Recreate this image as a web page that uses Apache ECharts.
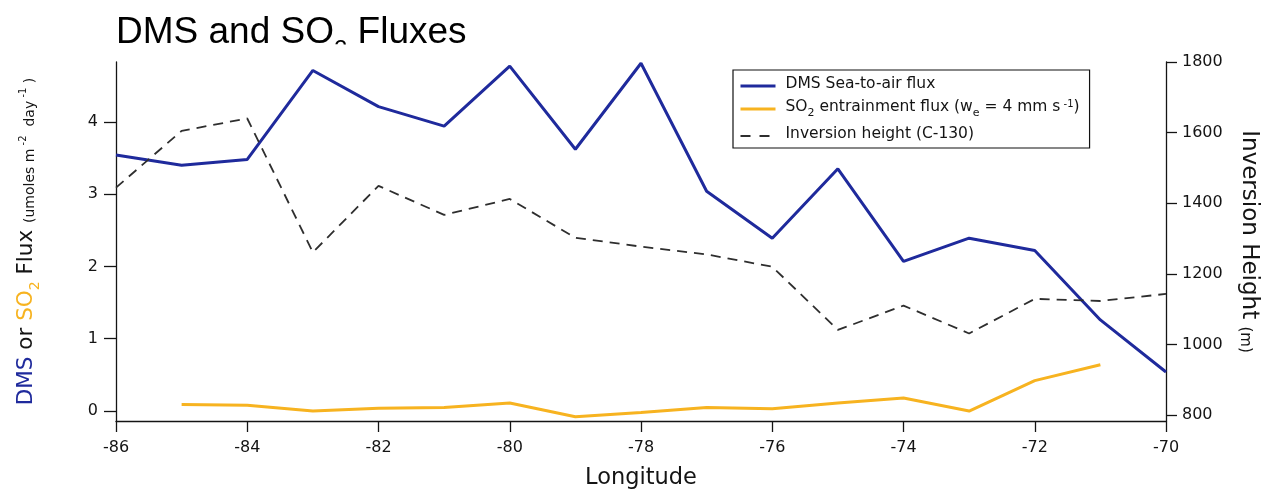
<!DOCTYPE html>
<html>
<head>
<meta charset="utf-8">
<script src="https://cdn.jsdelivr.net/npm/echarts@6/dist/echarts.min.js"></script>
<style>
html,body{margin:0;padding:0;background:#ffffff;}
#chart{width:1271px;height:491px;}
</style>
</head>
<body>
<div id="chart"></div>
<script>
// ---- data ----
const longitudes = [-86, -85, -84, -83, -82, -81, -80, -79, -78, -77, -76, -75, -74, -73, -72, -71, -70];
const dmsFlux = [3.54, 3.40, 3.48, 4.71, 4.21, 3.94, 4.77, 3.62, 4.81, 3.04, 2.39, 3.35, 2.07, 2.39, 2.22, 1.26, 0.54];
const so2Longitudes = [-85, -84, -83, -82, -81, -80, -79, -78, -77, -76, -75, -74, -73, -72, -71];
const so2Flux = [0.09, 0.08, 0.00, 0.04, 0.05, 0.11, -0.08, -0.02, 0.05, 0.03, 0.11, 0.18, 0.00, 0.42, 0.64];
const inversionHeight = [1444, 1605, 1640, 1261, 1449, 1367, 1412, 1302, 1277, 1255, 1220, 1041, 1110, 1031, 1129, 1123, 1143];
const xTicks = [-86, -84, -82, -80, -78, -76, -74, -72, -70];
const leftTicks = [0, 1, 2, 3, 4];
const rightTicks = [800, 1000, 1200, 1400, 1600, 1800];
const seriesNames = ['DMS Sea-to-air flux', 'SO2 entrainment flux', 'Inversion height (C-130)'];

const TFONT = '"Liberation Sans", Arial, Helvetica, sans-serif';
const FONT = '"DejaVu Sans", Verdana, sans-serif';
const BLUE = '#1f2a9c';
const ORANGE = '#f7b320';
const DASH = '#2e2e2e';
const INK = '#141414';

function pairs(xs, ys) { return xs.map((x, i) => [x, ys[i]]); }

const chart = echarts.init(document.getElementById('chart'), null, {renderer: 'canvas'});

const legendRich = {
  t: {fontSize: 15.5, fontFamily: FONT, color: INK, lineHeight: 20, verticalAlign: 'top'},
  sub: {fontSize: 11, fontFamily: FONT, color: INK, lineHeight: 11, verticalAlign: 'top', padding: [9, 0, 0, 0]},
  sup: {fontSize: 10, fontFamily: FONT, color: INK, lineHeight: 10, verticalAlign: 'top', padding: [0, 0, 0, 0]}
};

const leftNameRich = {
  b: {fontSize: 21.5, fontFamily: FONT, color: BLUE, lineHeight: 25, verticalAlign: 'top'},
  k: {fontSize: 21.5, fontFamily: FONT, color: INK, lineHeight: 25, verticalAlign: 'top'},
  o: {fontSize: 21.5, fontFamily: FONT, color: ORANGE, lineHeight: 25, verticalAlign: 'top'},
  os: {fontSize: 14, fontFamily: FONT, color: ORANGE, lineHeight: 14, verticalAlign: 'top', padding: [13, 0, 0, 0]},
  m: {fontSize: 14, fontFamily: FONT, color: INK, lineHeight: 14, verticalAlign: 'top', padding: [8, 0, 0, 0]},
  sp: {fontSize: 10, fontFamily: FONT, color: INK, lineHeight: 10, verticalAlign: 'top', padding: [3, 0, 0, 0]}
};

const rightNameRich = {
  a: {fontSize: 23, fontFamily: FONT, color: INK, lineHeight: 26, verticalAlign: 'top'},
  s: {fontSize: 15, fontFamily: FONT, color: INK, lineHeight: 15, verticalAlign: 'top', padding: [8, 0, 0, 0]}
};

const plainNumber = v => String(v);

const option = {
  backgroundColor: '#ffffff',
  animation: false,
  textStyle: {fontFamily: FONT},
  graphic: [
    {
      type: 'text', left: 116, top: 14, z: 1,
      style: {
        text: '{a|DMS and SO}{s|2}{a| Fluxes}',
        rich: {
          a: {fontSize: 37, fontFamily: TFONT, fill: '#000', lineHeight: 37, verticalAlign: 'top'},
          s: {fontSize: 24, fontFamily: TFONT, fill: '#000', lineHeight: 24, verticalAlign: 'top', padding: [24, 0, 0, 0]}
        }
      }
    },
    {
      type: 'rect', z: 2,
      shape: {x: 100, y: 44.5, width: 420, height: 14},
      style: {fill: '#ffffff'}
    }
  ],
  legend: {
    orient: 'vertical',
    left: 733, top: 70,
    padding: [6, 10, 6, 6],
    itemGap: 7,
    itemWidth: 35, itemHeight: 14,
    borderColor: '#111', borderWidth: 1.2,
    backgroundColor: '#ffffff',
    data: [
      {name: seriesNames[0], lineStyle: {width: 3, color: BLUE}},
      {name: seriesNames[1], lineStyle: {width: 3, color: ORANGE}},
      {name: seriesNames[2], lineStyle: {width: 2, color: DASH, type: [10, 9]}}
    ],
    itemStyle: {opacity: 0},
    textStyle: {fontFamily: FONT, fontSize: 15.5, color: INK, padding: [0, 0, 0, 5], rich: legendRich},
    formatter: function (name) {
      if (name === seriesNames[1]) {
        return '{t|SO}{sub|2}{t| entrainment flux (w}{sub|e}{t| = 4 mm s}{sup| -1}{t|)}';
      }
      return '{t|' + name + '}';
    }
  },
  grid: {left: 116, right: 105, top: 62, bottom: 70, containLabel: false, outerBoundsMode: 'none'},
  xAxis: {
    type: 'value',
    min: -86, max: -70, interval: 2,
    name: 'Longitude',
    nameLocation: 'middle',
    nameGap: 46,
    nameTextStyle: {fontFamily: FONT, fontSize: 22.5, color: INK},
    axisLine: {show: true, onZero: false, lineStyle: {color: INK, width: 1.3}},
    axisTick: {show: true, inside: false, length: 11, lineStyle: {color: INK, width: 1.3}, customValues: xTicks},
    axisLabel: {show: true, fontFamily: FONT, fontSize: 16, color: INK, margin: 19, customValues: xTicks, formatter: plainNumber},
    splitLine: {show: false}
  },
  yAxis: [
    {
      type: 'value',
      position: 'left',
      min: -0.138, max: 4.827,
      name: '{b|DMS}{k| or }{o|SO}{os|2}{k| Flux }{m|(umoles m}{sp| -2}{m|  day}{sp| -1}{m| )}',
      nameLocation: 'middle',
      nameRotate: 90,
      nameGap: 76,
      nameTextStyle: {fontFamily: FONT, fontSize: 21.5, color: INK, rich: leftNameRich},
      axisLine: {show: true, onZero: false, lineStyle: {color: INK, width: 1.3}},
      axisTick: {show: true, inside: false, length: 12, lineStyle: {color: INK, width: 1.3}, customValues: leftTicks},
      axisLabel: {show: true, fontFamily: FONT, fontSize: 16, color: INK, margin: 18, customValues: leftTicks, formatter: plainNumber},
      splitLine: {show: false}
    },
    {
      type: 'value',
      position: 'right',
      min: 783, max: 1800,
      name: '{a|Inversion Height }{s|(m)}',
      nameLocation: 'middle',
      nameRotate: -90,
      nameGap: 68,
      nameTextStyle: {fontFamily: FONT, fontSize: 23, color: INK, rich: rightNameRich},
      axisLine: {show: true, onZero: false, lineStyle: {color: INK, width: 1.3}},
      axisTick: {show: true, inside: false, length: 11, lineStyle: {color: INK, width: 1.3}, customValues: rightTicks},
      axisLabel: {show: true, fontFamily: FONT, fontSize: 16, color: INK, margin: 16, customValues: rightTicks, formatter: plainNumber},
      splitLine: {show: false}
    }
  ],
  series: [
    {
      name: seriesNames[0], type: 'line', yAxisIndex: 0,
      data: pairs(longitudes, dmsFlux),
      symbol: 'none', showSymbol: false,
      color: BLUE,
      lineStyle: {color: BLUE, width: 3},
      z: 3
    },
    {
      name: seriesNames[1], type: 'line', yAxisIndex: 0,
      data: pairs(so2Longitudes, so2Flux),
      symbol: 'none', showSymbol: false,
      color: ORANGE,
      lineStyle: {color: ORANGE, width: 3},
      z: 3
    },
    {
      name: seriesNames[2], type: 'line', yAxisIndex: 1,
      data: pairs(longitudes, inversionHeight),
      symbol: 'none', showSymbol: false,
      color: DASH,
      lineStyle: {color: DASH, width: 1.8, type: [10, 7]},
      z: 4
    }
  ]
};

chart.setOption(option);
</script>
</body>
</html>
